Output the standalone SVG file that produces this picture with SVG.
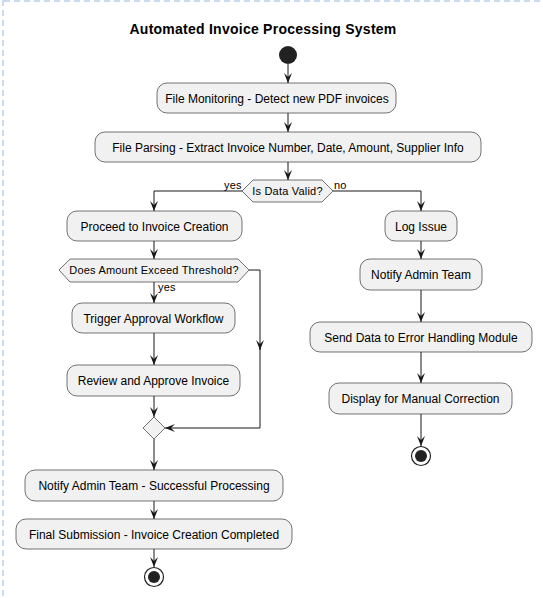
<svg xmlns="http://www.w3.org/2000/svg" width="543" height="598" viewBox="0 0 543 598">
<defs>
<style>
.box{fill:#F1F1F1;stroke:#181818;stroke-width:0.6}
.t{font-family:"Liberation Sans",Arial,sans-serif;font-size:12px;fill:#000;text-anchor:middle}
.s{font-family:"Liberation Sans",Arial,sans-serif;font-size:11px;fill:#000;letter-spacing:0.2px}
.ln{fill:none;stroke:#181818;stroke-width:1}
.frame{fill:none;stroke:#b8d0ea;stroke-width:1.5;stroke-dasharray:6 4}
</style>
<marker id="ah" viewBox="0 0 10 10" refX="10" refY="5" markerWidth="10" markerHeight="10" markerUnits="userSpaceOnUse" orient="auto">
<path d="M0,1 L10,5 L0,9 L4,5 Z" fill="#181818"/>
</marker>
</defs>
<rect width="543" height="598" fill="#fff"/>
<line class="frame" x1="4" y1="1" x2="543" y2="1"/>
<line class="frame" x1="3" y1="0" x2="3" y2="598"/>
<text x="263" y="34" font-family="'Liberation Sans',Arial,sans-serif" font-size="14" font-weight="bold" text-anchor="middle" letter-spacing="0.25">Automated Invoice Processing System</text>

<g id="connectors">
<line class="ln" x1="288" y1="64" x2="288" y2="83" marker-end="url(#ah)"/>
<line class="ln" x1="288" y1="113" x2="288" y2="132" marker-end="url(#ah)"/>
<line class="ln" x1="288" y1="162" x2="288" y2="180" marker-end="url(#ah)"/>
<polyline class="ln" points="242,191 154,191 154,211" marker-end="url(#ah)"/>
<polyline class="ln" points="333,191 421,191 421,211" marker-end="url(#ah)"/>
<line class="ln" x1="154" y1="241" x2="154" y2="259" marker-end="url(#ah)"/>
<line class="ln" x1="154" y1="282" x2="154" y2="303" marker-end="url(#ah)"/>
<line class="ln" x1="154" y1="333" x2="154" y2="365" marker-end="url(#ah)"/>
<line class="ln" x1="154" y1="396" x2="154" y2="417" marker-end="url(#ah)"/>
<polyline class="ln" points="249,270 260,270 260,350" marker-end="url(#ah)"/>
<polyline class="ln" points="260,345 260,428 165,428" marker-end="url(#ah)"/>
<line class="ln" x1="154" y1="439" x2="154" y2="470" marker-end="url(#ah)"/>
<line class="ln" x1="154" y1="501" x2="154" y2="519" marker-end="url(#ah)"/>
<line class="ln" x1="154" y1="549" x2="154" y2="567" marker-end="url(#ah)"/>
<line class="ln" x1="421" y1="241" x2="421" y2="259" marker-end="url(#ah)"/>
<line class="ln" x1="421" y1="290" x2="421" y2="322" marker-end="url(#ah)"/>
<line class="ln" x1="421" y1="352" x2="421" y2="383" marker-end="url(#ah)"/>
<line class="ln" x1="421" y1="414" x2="421" y2="446" marker-end="url(#ah)"/>
<text class="s" x="224" y="189">yes</text>
<text class="s" x="334" y="189">no</text>
<text class="s" x="158" y="291">yes</text>
</g>

<g id="start"><circle cx="288" cy="55" r="9" fill="#222"/></g>
<g id="n1"><rect class="box" x="157" y="83" width="239" height="30" rx="10"/><text class="t" x="277" y="102.5">File Monitoring - Detect new PDF invoices</text></g>
<g id="n2"><rect class="box" x="95" y="132" width="386" height="30" rx="10"/><text class="t" x="288" y="151.5">File Parsing - Extract Invoice Number, Date, Amount, Supplier Info</text></g>
<g id="d1"><polygon class="box" points="242,191 253,180 322,180 333,191 322,202 253,202"/><text class="s" x="287.5" y="195" text-anchor="middle">Is Data Valid?</text></g>
<g id="n3"><rect class="box" x="67" y="211" width="175" height="30" rx="10"/><text class="t" x="154.5" y="230.5">Proceed to Invoice Creation</text></g>
<g id="d2"><polygon class="box" points="59,270 70,259 238,259 249,270 238,282 70,282"/><text class="s" x="154" y="274" text-anchor="middle">Does Amount Exceed Threshold?</text></g>
<g id="n4"><rect class="box" x="72" y="303" width="163" height="30" rx="10"/><text class="t" x="153.5" y="322.5">Trigger Approval Workflow</text></g>
<g id="n5"><rect class="box" x="67" y="365" width="173" height="31" rx="10"/><text class="t" x="153.5" y="385">Review and Approve Invoice</text></g>
<g id="merge"><polygon class="box" points="154,417 165,428 154,439 143,428"/></g>
<g id="n6"><rect class="box" x="25" y="470" width="258" height="31" rx="10"/><text class="t" x="154" y="490">Notify Admin Team - Successful Processing</text></g>
<g id="n7"><rect class="box" x="16" y="519" width="276" height="30" rx="10"/><text class="t" x="154" y="538.5">Final Submission - Invoice Creation Completed</text></g>
<g id="end1"><circle cx="154" cy="577" r="9.5" fill="none" stroke="#222" stroke-width="1.2"/><circle cx="154" cy="577" r="6" fill="#222"/></g>
<g id="n8"><rect class="box" x="385" y="211" width="72" height="30" rx="10"/><text class="t" x="421" y="230.5">Log Issue</text></g>
<g id="n9"><rect class="box" x="360" y="259" width="122" height="31" rx="10"/><text class="t" x="421" y="279">Notify Admin Team</text></g>
<g id="n10"><rect class="box" x="310" y="322" width="222" height="30" rx="10"/><text class="t" x="421" y="341.5">Send Data to Error Handling Module</text></g>
<g id="n11"><rect class="box" x="329" y="383" width="183" height="31" rx="10"/><text class="t" x="420.5" y="403">Display for Manual Correction</text></g>
<g id="end2"><circle cx="421" cy="456" r="9.5" fill="none" stroke="#222" stroke-width="1.2"/><circle cx="421" cy="456" r="6" fill="#222"/></g>
</svg>
